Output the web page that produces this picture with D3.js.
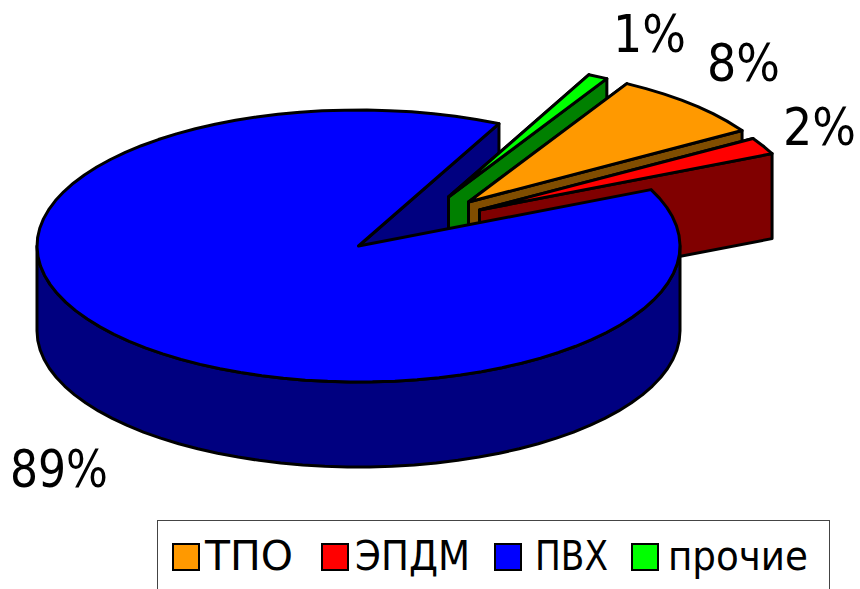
<!DOCTYPE html>
<html>
<head>
<meta charset="utf-8">
<script src="https://cdn.jsdelivr.net/npm/d3@7"></script>
<style>
    html, body { margin: 0; padding: 0; background: #fff; }
    svg { display: block; }
    text { fill: #000; font-family: "DejaVu Sans Condensed", "DejaVu Sans", sans-serif; }
</style>
</head>
<body>
<svg id="chart" width="860" height="589"></svg>
<script>
var categories = ["ТПО", "ЭПДМ", "ПВХ", "прочие"];
var shares = [8, 2, 89, 1];
var percentLabels = ["8%", "2%", "89%", "1%"];

var topColors = ["#FF9900", "#FF0000", "#0000FF", "#00FF00"];
var wallColors = ["#804D00", "#800000", "#000080", "#008000"];

// how far each slice is pulled out of the pie, in pixels
var explodeX = [110, 121, 0, 90];
var explodeY = [-44, -36, 0, -49];
var labelX = [707, 783, 10, 613];
var labelY = [81, 145, 487, 52];
var labelWidth = [73, 73, 98, 73];

var legendSwatchX = [173, 322, 495, 632];
var legendTextX = [205, 355, 535, 668];
var legendTextWidth = [88, 115, 73, 140];

var cx = 358.5, cy = 246, rx = 321.5, ry = 136, depth = 85;
var firstSliceAngle = 0.515;
var arcStep = Math.PI / 45;
var halfPi = Math.PI / 2;

var svg = d3.select("#chart");

var slices = d3.pie().sort(null).value(function (d) { return d; })
    .startAngle(firstSliceAngle).endAngle(firstSliceAngle + 2 * Math.PI)(shares);

var line = d3.line();

function project(d, angle, drop) {
    return [
        cx + explodeX[d.index] + rx * Math.sin(angle),
        cy + explodeY[d.index] - ry * Math.cos(angle) + drop
    ];
}

function apex(d, drop) {
    return [cx + explodeX[d.index], cy + explodeY[d.index] + drop];
}

function arcPoints(d, from, to, drop) {
    var points = d3.range(from, to, arcStep).map(function (a) { return project(d, a, drop); });
    points.push(project(d, to, drop));
    return points;
}

function addFace(points, color) {
    svg.append("path")
        .attr("d", line(points) + "Z")
        .attr("fill", color)
        .attr("stroke", "#000")
        .attr("stroke-width", 3)
        .attr("stroke-linejoin", "round");
}

function addCutWall(d, angle) {
    addFace([apex(d, 0), project(d, angle, 0), project(d, angle, depth), apex(d, depth)], wallColors[d.index]);
}

// the rim is only seen on the near half of the ellipse
function addRimWall(d) {
    var from = Math.max(d.startAngle, halfPi);
    var to = Math.min(d.endAngle, 3 * halfPi);
    if (from >= to) return;
    var upper = arcPoints(d, from, to, 0);
    var lower = arcPoints(d, from, to, depth).reverse();
    addFace(upper.concat(lower), wallColors[d.index]);
}

function addTop(d) {
    var points = [apex(d, 0)].concat(arcPoints(d, d.startAngle, d.endAngle, 0));
    addFace(points, topColors[d.index]);
}

// paint back to front: the big slice's far wall goes under the pulled out ones
var main = slices[2];
addCutWall(main, main.startAngle);
addCutWall(main, main.endAngle);

[3, 0, 1].forEach(function (i) {
    addCutWall(slices[i], slices[i].startAngle);
    addCutWall(slices[i], slices[i].endAngle);
    addRimWall(slices[i]);
    addTop(slices[i]);
});

addRimWall(main);
addTop(main);

svg.selectAll("text.pct")
    .data(percentLabels)
    .enter().append("text")
    .attr("class", "pct")
    .attr("x", function (d, i) { return labelX[i]; })
    .attr("y", function (d, i) { return labelY[i]; })
    .attr("font-size", 52)
    .attr("textLength", function (d, i) { return labelWidth[i]; })
    .attr("lengthAdjust", "spacingAndGlyphs")
    .text(function (d) { return d; });

// legend, clipped by the bottom of the page
svg.append("rect")
    .attr("x", 157.5).attr("y", 520.5)
    .attr("width", 672).attr("height", 90)
    .attr("fill", "#fff").attr("stroke", "#444").attr("stroke-width", 1);

categories.forEach(function (name, i) {
    svg.append("rect")
        .attr("x", legendSwatchX[i]).attr("y", 544)
        .attr("width", 26).attr("height", 26)
        .attr("fill", topColors[i])
        .attr("stroke", "#000").attr("stroke-width", 2);
    svg.append("text")
        .attr("x", legendTextX[i]).attr("y", 570)
        .attr("font-size", 41)
        .attr("textLength", legendTextWidth[i])
        .attr("lengthAdjust", "spacingAndGlyphs")
        .text(name);
});
</script>
</body>
</html>
